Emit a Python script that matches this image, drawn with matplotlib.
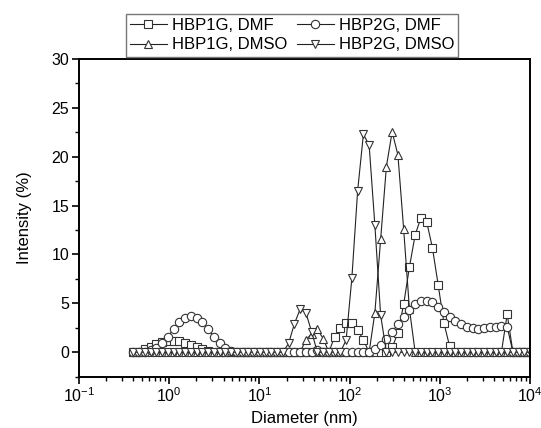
import matplotlib
matplotlib.use("Agg")
import matplotlib.pyplot as plt
from matplotlib.ticker import MultipleLocator, LogLocator, NullFormatter

plt.rcParams['font.family'] = ['Liberation Sans', 'DejaVu Sans']
plt.rcParams['mathtext.default'] = 'regular'

# size bins (nm)
diameter = [0.4, 0.4632, 0.5365, 0.6213, 0.7195, 0.8332, 0.9649, 1.117, 1.294, 1.499,
            1.736, 2.010, 2.328, 2.696, 3.122, 3.615, 4.187, 4.849, 5.615, 6.503,
            7.531, 8.721, 10.10, 11.70, 13.54, 15.69, 18.17, 21.04, 24.36, 28.21,
            32.67, 37.84, 43.82, 50.75, 58.77, 68.06, 78.82, 91.28, 105.7, 122.4,
            141.8, 164.2, 190.1, 220.2, 255.0, 295.3, 342.0, 396.1, 458.7, 531.2,
            615.1, 712.4, 825.0, 955.4, 1106, 1281, 1484, 1718, 1990, 2305,
            2669, 3091, 3580, 4145, 4801, 5560, 6439, 7456, 8635, 10000]

hbp1g_dmf = [0, 0, 0.3, 0.55, 0.8, 1.0, 1.1, 1.15, 1.1, 0.95,
             0.75, 0.55, 0.35, 0.15, 0, 0, 0, 0, 0, 0,
             0, 0, 0, 0, 0, 0, 0, 0, 0, 0,
             0, 0, 0, 0, 0, 1.6, 2.5, 3.0, 3.0, 2.3,
             1.25, 0, 0, 0, 0, 0.5, 1.95, 4.9, 8.7, 12.0,
             13.75, 13.35, 10.7, 6.9, 3.0, 0.6, 0, 0, 0, 0,
             0, 0, 0, 0, 0, 3.9, 0, 0, 0, 0]

hbp1g_dmso = [0, 0, 0, 0, 0, 0, 0, 0, 0, 0,
              0, 0, 0, 0, 0, 0, 0, 0, 0, 0,
              0, 0, 0, 0, 0, 0, 0, 0, 0, 0,
              1.25, 1.9, 2.35, 1.4, 0, 0, 0, 0, 0, 0,
              0, 0, 4.05, 11.55, 19.0, 22.55, 20.2, 12.6, 4.45, 0,
              0, 0, 0, 0, 0, 0, 0, 0, 0, 0,
              0, 0, 0, 0, 0, 0, 0, 0, 0, 0]

hbp2g_dmf = [0, 0, 0, 0.2, 0.4, 0.9, 1.6, 2.35, 3.05, 3.55,
             3.75, 3.55, 3.05, 2.35, 1.6, 0.9, 0.4, 0.1, 0, 0,
             0, 0, 0, 0, 0, 0, 0, 0, 0, 0,
             0, 0, 0.2, 0, 0, 0, 0, 0, 0, 0,
             0, 0, 0.3, 0.75, 1.4, 2.05, 2.9, 3.65, 4.3, 4.9,
             5.2, 5.25, 5.1, 4.65, 4.15, 3.65, 3.2, 2.85, 2.6, 2.45,
             2.4, 2.45, 2.55, 2.6, 2.65, 2.6, 0, 0, 0, 0]

hbp2g_dmso = [0, 0, 0, 0, 0, 0, 0, 0, 0, 0,
              0, 0, 0, 0, 0, 0, 0, 0, 0, 0,
              0, 0, 0, 0, 0, 0, 0, 0.9, 2.9, 4.4,
              4.05, 2.1, 0, 0, 0, 0, 0, 1.25, 7.6, 16.5,
              22.3, 21.2, 13.0, 3.8, 0, 0, 0, 0, 0, 0,
              0, 0, 0, 0, 0, 0, 0, 0, 0, 0,
              0, 0, 0, 0, 0, 0, 0, 0, 0, 0]

series = [
    ("HBP1G, DMF", hbp1g_dmf, "s"),
    ("HBP1G, DMSO", hbp1g_dmso, "^"),
    ("HBP2G, DMF", hbp2g_dmf, "o"),
    ("HBP2G, DMSO", hbp2g_dmso, "v"),
]

fig = plt.figure(figsize=(5.41, 4.28), dpi=100)
ax = fig.add_axes([0.146, 0.120, 0.834, 0.742])

for label, vals, mk in series:
    ax.plot(diameter, vals, marker=mk, color="#222222", lw=0.8,
            markersize=6.0, markerfacecolor="white", markeredgecolor="#333333",
            markeredgewidth=0.8, label=label)

ax.set_xscale("log")
ax.set_xlim(0.1, 10000)
ax.set_ylim(-2.5, 30)
ax.yaxis.set_major_locator(MultipleLocator(5))
ax.yaxis.set_minor_locator(MultipleLocator(2.5))
ax.xaxis.set_major_locator(LogLocator(base=10, numticks=10))
ax.xaxis.set_minor_locator(LogLocator(base=10, subs=range(2, 10), numticks=20))
ax.xaxis.set_minor_formatter(NullFormatter())

ax.tick_params(which="major", direction="out", length=5, width=1.2, labelsize=11.5,
               top=False, right=False, pad=2)
ax.tick_params(which="minor", direction="out", length=3, width=1.0,
               top=False, right=False)
for sp in ax.spines.values():
    sp.set_linewidth(1.4)

ax.set_xlabel("Diameter (nm)", fontsize=12, labelpad=4)
ax.set_ylabel("Intensity (%)", fontsize=12, labelpad=14)

fig.legend(loc="upper center", bbox_to_anchor=(292 / 541, 1 - 14 / 428),
           ncol=2, fontsize=12, frameon=True, fancybox=False, edgecolor="#777777",
           framealpha=1, borderpad=0.25, handlelength=2.2, handletextpad=0.3,
           columnspacing=0.6, labelspacing=0.25, borderaxespad=0)

fig.savefig("out.png", dpi=100)
